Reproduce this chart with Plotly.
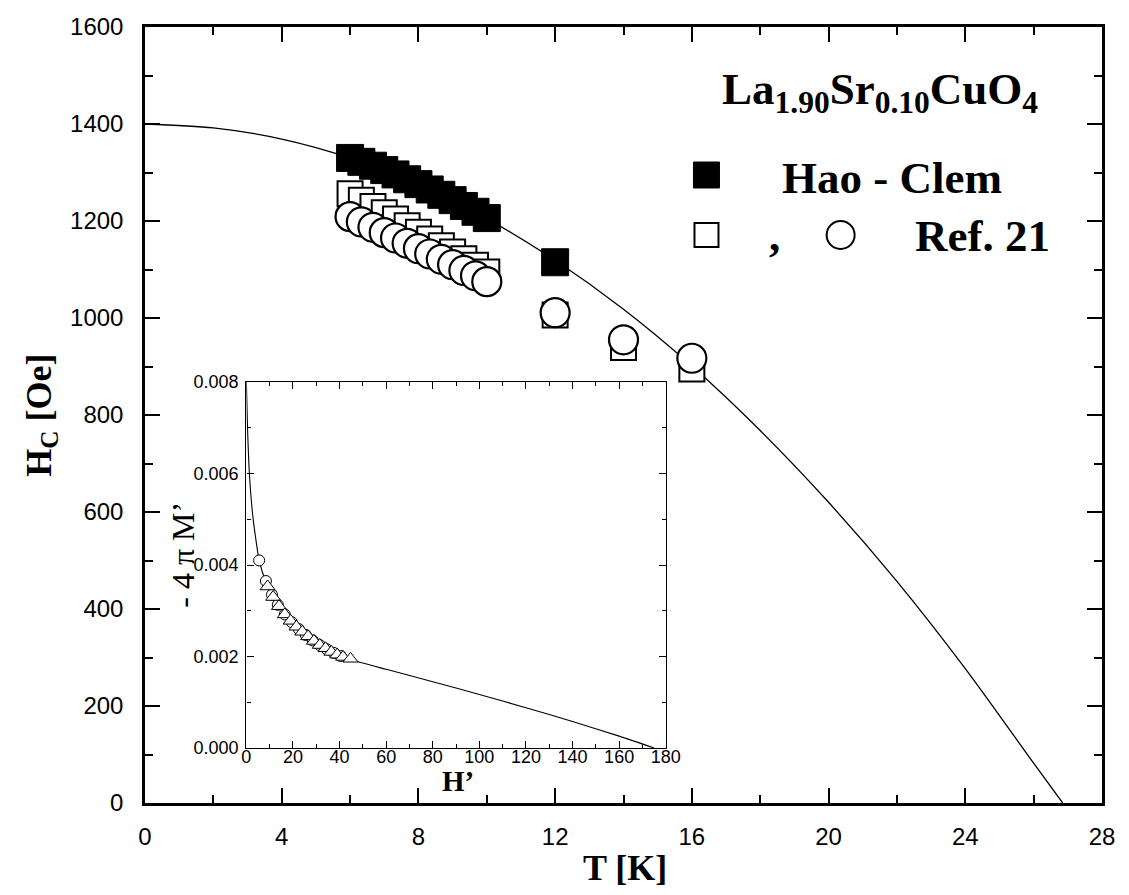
import plotly.graph_objects as go

# ---------------- main panel data ----------------
T_cluster = [6.0, 6.33, 6.67, 7.0, 7.33, 7.67, 8.0, 8.33, 8.67, 9.0, 9.33, 9.67, 10.0]
T_far = [12, 14, 16]

hc_filled_cluster = [1330, 1322, 1314, 1305, 1296, 1286, 1276, 1265, 1254, 1243, 1231, 1219, 1206]
T_filled = T_cluster + [12]
hc_filled = hc_filled_cluster + [1115]

hc_opensq_cluster = [1256, 1243, 1230, 1217, 1204, 1190, 1177, 1163, 1149, 1136, 1122, 1109, 1095]
T_opensq = T_cluster + T_far
hc_opensq = hc_opensq_cluster + [1006, 939, 895]

hc_circle_cluster = [1209, 1198, 1187, 1176, 1165, 1154, 1143, 1132, 1121, 1110, 1098, 1087, 1075]
T_circle = T_cluster + T_far
hc_circle = hc_circle_cluster + [1011, 955, 917]

# fitted curve
T_fit = [0, 2, 4, 6, 8, 10, 12, 14, 16, 18, 20, 22, 24, 26, 26.85]
hc_fit = [1400, 1392, 1369, 1330, 1275, 1205, 1119, 1018, 901, 768, 620, 457, 277, 82, 0]

# ---------------- inset data ----------------
H_circ = [5.5, 8.4, 11, 13.5, 16.5, 19.5, 22.5, 25.5, 28.5, 31.5, 34.5, 37.5, 40.5]
M_circ = [0.00410, 0.00365, 0.00335, 0.00313, 0.00292, 0.00275, 0.00260, 0.00247,
          0.00235, 0.00225, 0.00216, 0.00208, 0.00201]
H_tri = [9.1, 11.5, 14, 16.5, 19, 21.5, 24, 26.5, 29, 31.5, 34, 36.5, 39, 41.5, 44.7]
M_tri = [0.00353, 0.00330, 0.00310, 0.00292, 0.00278, 0.00265, 0.00254, 0.00244,
         0.00234, 0.00225, 0.00218, 0.00210, 0.00204, 0.00199, 0.00195]
H_fit = [0, 0.5, 1.3, 2.7, 4.1, 5.5, 8.4, 12, 16, 20, 25, 30, 35, 40, 45,
         60, 80, 100, 120, 140, 160, 175]
M_fit = [0.0080, 0.0070, 0.0060, 0.0051, 0.00455, 0.0041, 0.00362, 0.00323, 0.00294,
         0.00271, 0.00248, 0.00230, 0.00215, 0.00203, 0.00193, 0.00172, 0.00145,
         0.00117, 0.00088, 0.00058, 0.00026, 0.0]

# ---------------- text ----------------
compound = "La<sub>1.90</sub>Sr<sub>0.10</sub>CuO<sub>4</sub>"
label_hc = "Hao - Clem"
label_ref = "Ref. 21"
x_title = "T [K]"
y_title = "H<sub>C</sub> [Oe]"
inset_x_title = "H’"
inset_y_title = "- 4 π M’"

SERIF = "Liberation Serif"
SANS = "Liberation Sans"

fig = go.Figure()

# main curve
fig.add_trace(go.Scatter(x=T_fit, y=hc_fit, mode="lines",
                         line=dict(color="black", width=1.3, shape="spline", smoothing=0.8),
                         xaxis="x", yaxis="y", showlegend=False, hoverinfo="skip"))
# filled squares
fig.add_trace(go.Scatter(x=T_filled, y=hc_filled, mode="markers",
                         marker=dict(symbol="square", size=27, color="black",
                                     line=dict(color="black", width=1)),
                         xaxis="x", yaxis="y", showlegend=False))
# open squares
fig.add_trace(go.Scatter(x=T_opensq, y=hc_opensq, mode="markers",
                         marker=dict(symbol="square", size=25, color="white",
                                     line=dict(color="black", width=2)),
                         xaxis="x", yaxis="y", showlegend=False))
# open circles
fig.add_trace(go.Scatter(x=T_circle, y=hc_circle, mode="markers",
                         marker=dict(symbol="circle", size=29, color="white",
                                     line=dict(color="black", width=2.2)),
                         xaxis="x", yaxis="y", showlegend=False))

# inset curve & markers
fig.add_trace(go.Scatter(x=H_fit, y=M_fit, mode="lines",
                         line=dict(color="black", width=1.1, shape="spline", smoothing=0.6),
                         xaxis="x2", yaxis="y2", showlegend=False, hoverinfo="skip"))
fig.add_trace(go.Scatter(x=H_circ, y=M_circ, mode="markers",
                         marker=dict(symbol="circle", size=11, color="white",
                                     line=dict(color="black", width=1)),
                         xaxis="x2", yaxis="y2", showlegend=False))
fig.add_trace(go.Scatter(x=H_tri, y=M_tri, mode="markers",
                         marker=dict(symbol="triangle-up", size=13, color="white",
                                     line=dict(color="black", width=1)),
                         xaxis="x2", yaxis="y2", showlegend=False))

L, R, TOP, B = 145, 1108, 27, 803
W, H = 1129, 895


def px(x):
    return (x - L) / (R - L)


def py(y):
    return (B - y) / (B - TOP)


main_axis = dict(showline=True, linewidth=2.5, linecolor="black", mirror="ticks",
                 ticks="inside", tickwidth=2, tickcolor="black", ticklen=15,
                 showgrid=False, zeroline=False,
                 tickfont=dict(family=SANS, size=24, color="black"))

fig.update_layout(
    width=W, height=H,
    margin=dict(l=L, r=W - R, t=TOP, b=H - B),
    paper_bgcolor="white", plot_bgcolor="white",
    showlegend=False,
    xaxis=dict(main_axis, range=[0, 28], tick0=0, dtick=4, domain=[0, 1],
               ticklabelstandoff=10,
               minor=dict(dtick=2, ticks="inside", ticklen=8, tickwidth=2, tickcolor="black")),
    yaxis=dict(main_axis, range=[0, 1600], tick0=0, dtick=200, domain=[0, 1],
               ticklabelstandoff=14,
               minor=dict(dtick=100, ticks="inside", ticklen=8, tickwidth=2, tickcolor="black")),
    xaxis2=dict(anchor="y2", domain=[px(247), px(669)], range=[0, 180], tick0=0, dtick=20,
                showline=True, linewidth=1.3, linecolor="black", mirror="ticks",
                ticks="inside", ticklen=7, tickwidth=1, tickcolor="black",
                showgrid=False, zeroline=False, ticklabelstandoff=-8,
                tickfont=dict(family=SANS, size=18, color="black"),
                minor=dict(dtick=10, ticks="inside", ticklen=4, tickwidth=1, tickcolor="black")),
    yaxis2=dict(anchor="x2", domain=[py(748), py(382)], range=[0, 0.008], tick0=0, dtick=0.002,
                tickformat=".3f",
                showline=True, linewidth=1.3, linecolor="black", mirror="ticks",
                ticks="inside", ticklen=7, tickwidth=1, tickcolor="black",
                showgrid=False, zeroline=False, ticklabelstandoff=3,
                tickfont=dict(family=SANS, size=18, color="black"),
                minor=dict(dtick=0.001, ticks="inside", ticklen=4, tickwidth=1, tickcolor="black")),
)

ann = []
title_font = dict(family=SERIF, size=36, color="black")
ann.append(dict(text="<b>" + x_title + "</b>", x=px(628), y=py(868), xref="paper", yref="paper",
                showarrow=False, xanchor="center", yanchor="middle", font=title_font))
ann.append(dict(text="<b>" + y_title + "</b>", x=px(40), y=py(415), xref="paper", yref="paper",
                showarrow=False, xanchor="center", yanchor="middle", textangle=-90, font=title_font))
ann.append(dict(text=inset_y_title, x=px(183), y=py(555), xref="paper", yref="paper",
                showarrow=False, xanchor="center", yanchor="middle", textangle=-90,
                font=dict(family=SERIF, size=32, color="black")))
ann.append(dict(text="<b>" + inset_x_title + "</b>", x=px(460), y=py(781), xref="paper", yref="paper",
                showarrow=False, xanchor="center", yanchor="middle",
                font=dict(family=SERIF, size=29, color="black")))
legend_font = dict(family=SERIF, size=45, color="black")
ann.append(dict(text="<b>" + compound + "</b>", x=px(724), y=py(92), xref="paper", yref="paper",
                showarrow=False, xanchor="left", yanchor="middle", font=legend_font))
ann.append(dict(text="<b>" + label_hc + "</b>", x=px(784), y=py(178), xref="paper", yref="paper",
                showarrow=False, xanchor="left", yanchor="middle", font=legend_font))
ann.append(dict(text="<b>,</b>", x=px(771), y=py(236), xref="paper", yref="paper",
                showarrow=False, xanchor="left", yanchor="middle", font=legend_font))
ann.append(dict(text="<b>" + label_ref + "</b>", x=px(918), y=py(236), xref="paper", yref="paper",
                showarrow=False, xanchor="left", yanchor="middle", font=legend_font))

shapes = []
# legend keys
shapes.append(dict(type="rect", xref="paper", yref="paper", xsizemode="pixel", ysizemode="pixel",
                   xanchor=px(710), yanchor=py(175), x0=-13, x1=13, y0=-13, y1=13,
                   fillcolor="black", line=dict(color="black", width=1)))
shapes.append(dict(type="rect", xref="paper", yref="paper", xsizemode="pixel", ysizemode="pixel",
                   xanchor=px(710), yanchor=py(235), x0=-12, x1=12, y0=-12, y1=12,
                   fillcolor="white", line=dict(color="black", width=2)))
shapes.append(dict(type="circle", xref="paper", yref="paper", xsizemode="pixel", ysizemode="pixel",
                   xanchor=px(845), yanchor=py(235), x0=-14, x1=14, y0=-14, y1=14,
                   fillcolor="white", line=dict(color="black", width=2)))

fig.update_layout(annotations=ann, shapes=shapes)

fig.write_html("out.html")
